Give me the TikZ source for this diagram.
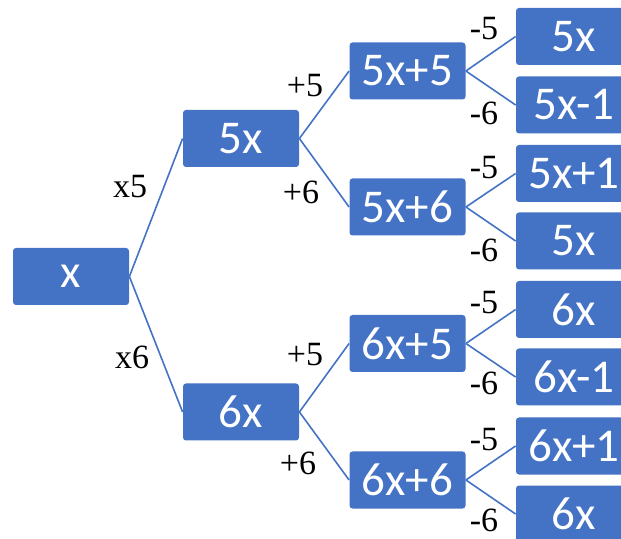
\documentclass[tikz,border=0pt]{standalone}
\usepackage{fontspec}
\setmainfont{Liberation Serif}
\newfontfamily\boxfont{Carlito}
\definecolor{boxblue}{HTML}{4472C4}
\begin{document}
\begin{tikzpicture}[x=0.5pt,y=-0.5pt,
  bx/.style={fill=boxblue,rounded corners=1.5pt,minimum width=58pt,minimum height=28.5pt,inner sep=0pt,text=white,font=\boxfont\fontsize{23.5}{28}\selectfont},
  e/.style={draw=boxblue,line width=0.8pt},
  lab/.style={font=\fontsize{17}{20}\selectfont,inner sep=0pt}]
  \useasboundingbox (0,0) rectangle (621,539);
  % levels 0..2
  \node[bx] (r) at (71,276.5) {x};
  \node[bx] (a5) at (241,138.5) {5x};
  \node[bx] (a6) at (241,412) {6x};
  \node[bx] (b55) at (407.5,71) {5x+5};
  \node[bx] (b56) at (407.5,207) {5x+6};
  \node[bx] (b65) at (407.5,343.5) {6x+5};
  \node[bx] (b66) at (407.5,480) {6x+6};
  % leaves, cut off at the right edge
  \foreach \n/\y/\t in {c1/36.5/5x,c2/105/5x-1,c3/173.5/5x+1,c4/241/5x,
                        c5/309.5/6x,c6/377/6x-1,c7/446/6x+1,c8/514/6x}
    \node[bx] (\n) at (574,\y) {\t};
  \foreach \p/\q in {r/a5,r/a6,a5/b55,a5/b56,a6/b65,a6/b66,
                     b55/c1,b55/c2,b56/c3,b56/c4,b65/c5,b65/c6,b66/c7,b66/c8}
    \draw[e] (\p.east) -- (\q.west);
  \node[lab] (m5) at (130,187) {x5};
  \node[lab] (m6) at (132,357) {x6};
  \node[lab] (p1) at (305,86) {+5};  \node[lab] (p2) at (301,192) {+6};
  \node[lab] (p3) at (305,355) {+5}; \node[lab] (p4) at (298,463) {+6};
  \foreach \n/\y/\t in {s1/29/-5,s2/113/-6,s3/168/-5,s4/250/-6,
                        s5/303/-5,s6/383/-6,s7/440/-5,s8/520/-6}
    \node[lab] (\n) at (484,\y) {\t};
\end{tikzpicture}
\end{document}
